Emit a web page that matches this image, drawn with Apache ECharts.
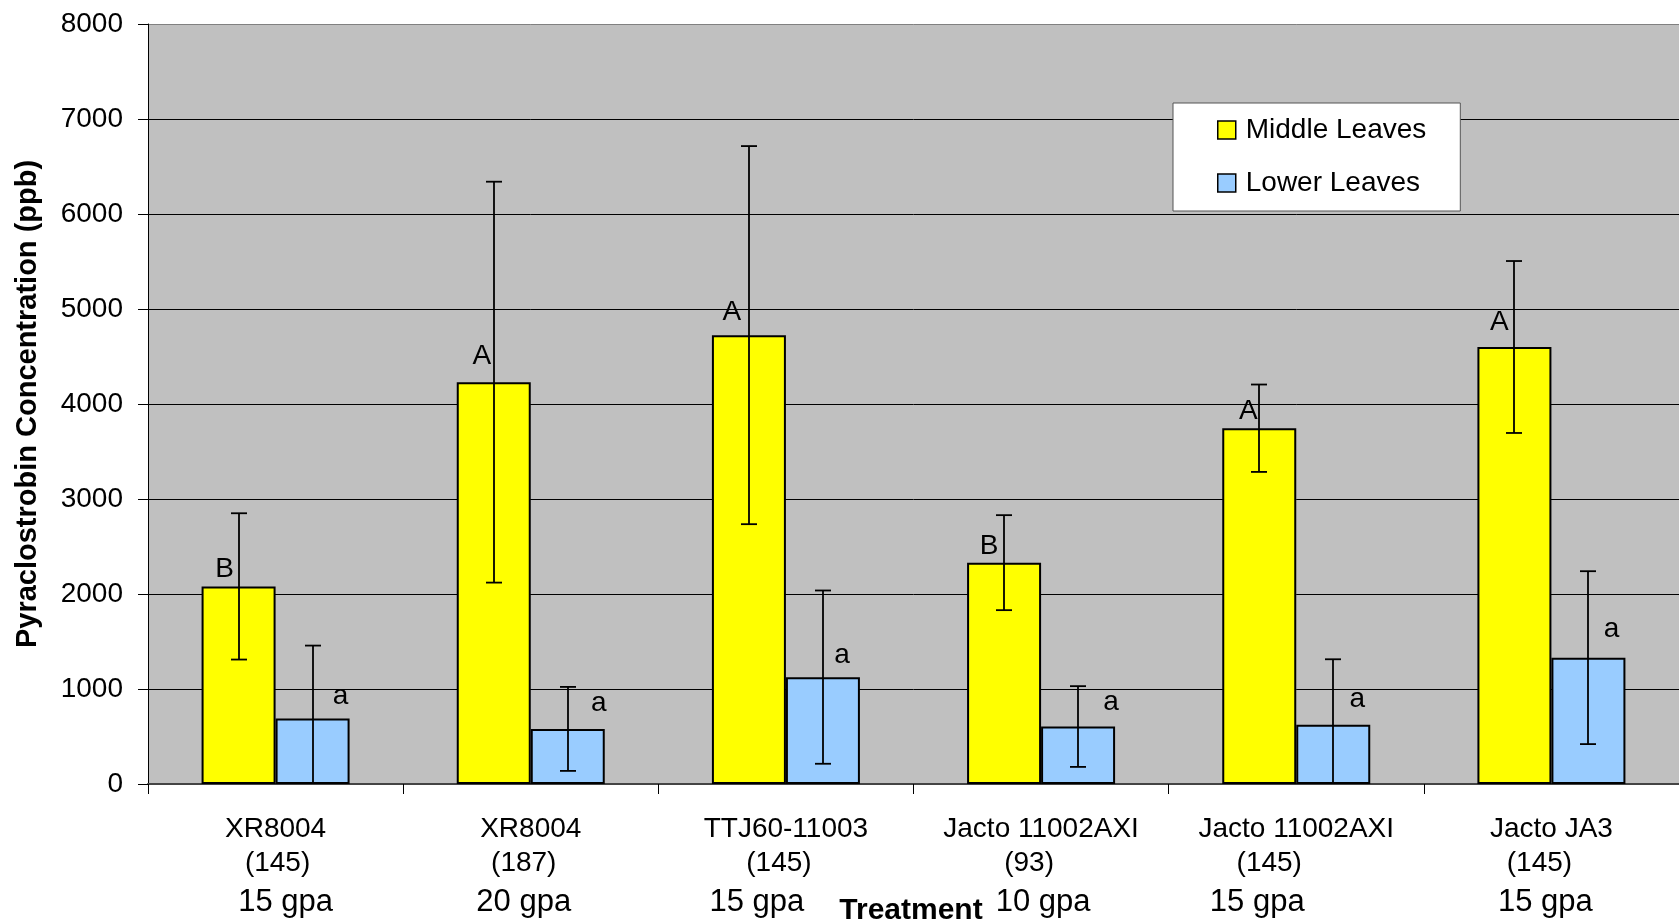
<!DOCTYPE html>
<html><head><meta charset="utf-8">
<script src="https://cdn.jsdelivr.net/npm/echarts@6/dist/echarts.min.js"></script>
<style>html,body{margin:0;padding:0;background:#fff}#c{width:1679px;height:924px}</style>
</head><body><div id="c"></div>
<script>
// ---- data ----
const categories = ['XR8004', 'XR8004', 'TTJ60-11003', 'Jacto 11002AXI', 'Jacto 11002AXI', 'Jacto JA3'];
const pressures = ['(145)', '(187)', '(145)', '(93)', '(145)', '(145)'];
const rates = ['15 gpa', '20 gpa', '15 gpa', '10 gpa', '15 gpa', '15 gpa'];
const middleLeaves = [2080, 4230, 4725, 2330, 3745, 4600];
const middleErr = [770, 2110, 1990, 500, 460, 905];
const lowerLeaves = [690, 580, 1125, 605, 625, 1330];
const lowerErr = [767, 442, 912, 425, 688, 910];
const middleLetters = ['B', 'A', 'A', 'B', 'A', 'A'];
const lowerLetters = ['a', 'a', 'a', 'a', 'a', 'a'];
const yMin = 0, yMax = 8000, yStep = 1000;

// ---- layout / style constants ----
const FONT = '"Liberation Sans", Arial, sans-serif';
const BAR_W = 74, CAP = 8;
const LINE2_SHIFT = [2, -7, -7, -12, -27, -12];
const LINE3_SHIFT = [10, -7, -29, 2, -39, -6];
const MID_DX = [-14, -12, -17, -15, -11, -15];
const MID_DY = [18, 27, 24, 17, 18, 26];
const LOW_DX = [28, 31, 19, 33, 24, 23];
const LOW_DY = [20, 24, 20, 22, 23, 26];

function pad(s) { return s >= 0 ? [0, 0, 0, 2 * s] : [0, -2 * s, 0, 0]; }
const rich = { n: { fontSize: 28, lineHeight: 35, fontFamily: FONT, color: '#000' } };
categories.forEach((_, i) => {
  rich['p' + i] = { fontSize: 28, lineHeight: 32, fontFamily: FONT, color: '#000', padding: pad(LINE2_SHIFT[i]) };
  rich['g' + i] = { fontSize: 31, lineHeight: 46, fontFamily: FONT, color: '#000', padding: pad(LINE3_SHIFT[i]) };
});

function errRender(side) {
  return function (params, api) {
    const i = api.value(0);
    const top = api.coord([i, api.value(2)]);
    const bot = api.coord([i, api.value(1)]);
    const x = Math.round(top[0] + side * BAR_W / 2);
    const style = { stroke: '#000', lineWidth: 1.8 };
    return { type: 'group', children: [
      { type: 'line', shape: { x1: x, y1: top[1], x2: x, y2: bot[1] }, style },
      { type: 'line', shape: { x1: x - CAP, y1: top[1], x2: x + CAP, y2: top[1] }, style },
      { type: 'line', shape: { x1: x - CAP, y1: bot[1], x2: x + CAP, y2: bot[1] }, style }
    ] };
  };
}

const letterLabel = { show: true, position: 'top', distance: 0, fontSize: 28, lineHeight: 28, fontFamily: FONT, color: '#000' };

const chart = echarts.init(document.getElementById('c'), null, { renderer: 'canvas' });
chart.setOption({
  animation: false,
  backgroundColor: '#fff',
  textStyle: { fontFamily: FONT },
  grid: { left: 148, top: 24, width: 1536, height: 760, show: true, backgroundColor: '#C0C0C0', borderWidth: 0 },
  legend: {
    orient: 'vertical', left: 1173, top: 103,
    backgroundColor: '#fff', borderColor: '#555', borderWidth: 1,
    padding: [13, 34, 14, 44], itemGap: 25, itemWidth: 18, itemHeight: 18,
    icon: 'rect',
    itemStyle: { borderColor: '#000', borderWidth: 1.5 },
    textStyle: { fontSize: 28, lineHeight: 28, color: '#000', fontFamily: FONT, padding: [0, 0, 0, 5] },
    data: ['Middle Leaves', 'Lower Leaves']
  },
  xAxis: {
    type: 'category', data: categories,
    axisLine: { lineStyle: { color: '#444', width: 2 } },
    axisTick: { show: true, length: 10, lineStyle: { color: '#000', width: 1 } },
    axisLabel: {
      interval: 0, margin: 28, rich: rich,
      formatter: (v, i) => `{n|${categories[i]}}\n{p${i}|${pressures[i]}}\n{g${i}|${rates[i]}}`
    },
    splitLine: { show: false }
  },
  yAxis: {
    type: 'value', min: yMin, max: yMax, interval: yStep,
    axisLine: { show: true, lineStyle: { color: '#000', width: 1 } },
    axisTick: { show: true, length: 10, lineStyle: { color: '#000' } },
    axisLabel: { fontSize: 28, color: '#000', margin: 25, fontFamily: FONT, formatter: v => String(v) },
    splitLine: { show: true, lineStyle: { color: ['#000', '#000', '#000', '#000', '#000', '#000', '#000', '#000', '#808080'], width: 1 } }
  },
  series: [
    {
      name: 'Middle Leaves', type: 'bar', barWidth: BAR_W, barGap: '0%',
      itemStyle: { color: '#FFFF00', borderColor: '#000', borderWidth: 2 },
      data: middleLeaves.map((v, i) => ({ value: v, label: Object.assign({}, letterLabel, { formatter: middleLetters[i], offset: [MID_DX[i], 15 - MID_DY[i]] }) })),
      z: 2
    },
    {
      name: 'Lower Leaves', type: 'bar', barWidth: BAR_W, barGap: '0%',
      itemStyle: { color: '#99CCFF', borderColor: '#000', borderWidth: 2 },
      data: lowerLeaves.map((v, i) => ({ value: v, label: Object.assign({}, letterLabel, { formatter: lowerLetters[i], offset: [LOW_DX[i], 12 - LOW_DY[i]] }) })),
      z: 2
    },
    {
      type: 'custom', name: 'midErr', renderItem: errRender(-1), clip: true, z: 5,
      encode: { x: 0, y: [1, 2] },
      data: middleLeaves.map((v, i) => [i, v - middleErr[i], v + middleErr[i]])
    },
    {
      type: 'custom', name: 'lowErr', renderItem: errRender(1), clip: true, z: 5,
      encode: { x: 0, y: [1, 2] },
      data: lowerLeaves.map((v, i) => [i, v - lowerErr[i], v + lowerErr[i]])
    }
  ],
  graphic: [
    { type: 'text', x: 28, y: 404, rotation: Math.PI / 2,
      style: { text: 'Pyraclostrobin Concentration (ppb)', font: 'bold 29px ' + FONT, fill: '#000', align: 'center', verticalAlign: 'middle', textAlign: 'center', textVerticalAlign: 'middle' } },
    { type: 'text', x: 911, y: 911,
      style: { text: 'Treatment', font: 'bold 30px ' + FONT, fill: '#000', align: 'center', verticalAlign: 'middle', textAlign: 'center', textVerticalAlign: 'middle' } }
  ]
});
</script></body></html>
